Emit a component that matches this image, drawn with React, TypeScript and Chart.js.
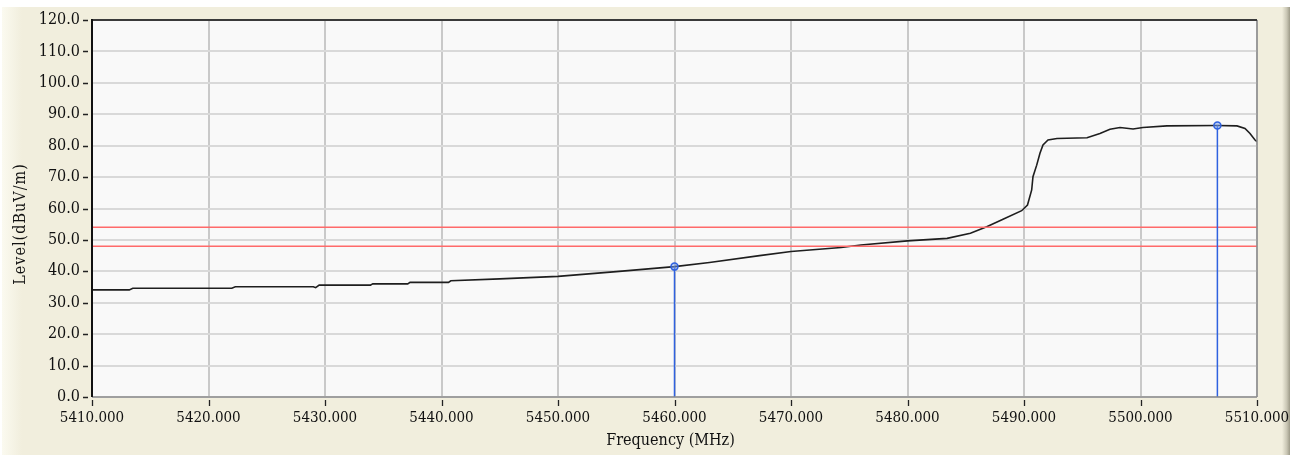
import React, { useEffect, useRef } from "react";
import { Chart, registerables } from "chart.js";

Chart.register(...registerables);

const freqs = [5410, 5413.2, 5413.5, 5422.0, 5422.3, 5429.0, 5429.2, 5429.5, 5433.9, 5434.1, 5437.1, 5437.3, 5440.6, 5440.8, 5445, 5450, 5455, 5460, 5463, 5467.3, 5470, 5474.3, 5476, 5480, 5483.4, 5485.4, 5486.8, 5488.2, 5489.8, 5490.3, 5490.66, 5490.77, 5491.09, 5491.37, 5491.63, 5492.06, 5492.83, 5495.41, 5496.52, 5497.38, 5498.24, 5499.36, 5500.21, 5502.27, 5506.57, 5508.28, 5508.97, 5509.4, 5509.83, 5510];
const levels = [34.1, 34.1, 34.6, 34.6, 35.1, 35.1, 34.8, 35.6, 35.6, 36.0, 36.0, 36.5, 36.5, 37.0, 37.6, 38.4, 39.9, 41.5, 42.8, 45.0, 46.3, 47.6, 48.4, 49.7, 50.5, 52.1, 54.2, 56.6, 59.3, 61.1, 65.9, 70.1, 73.8, 77.6, 80.2, 81.8, 82.3, 82.5, 83.9, 85.2, 85.8, 85.3, 85.8, 86.3, 86.4, 86.3, 85.5, 83.9, 81.8, 81.3];

const limitLevels = [54, 48];
const markerFreqs = [5460.0, 5506.6];
const markerLevels = [41.5, 86.4];

const xMin = 5410;
const xMax = 5510;
const xStep = 10;
const yMin = 0;
const yMax = 120;
const yStep = 10;

const xTitle = "Frequency (MHz)";
const yTitle = "Level(dBuV/m)";

const FONT = "'DejaVu Serif Condensed', 'DejaVu Serif', serif";

const framePlugin = {
  id: "frame",
  beforeDraw(chart: any) {
    const { ctx, chartArea } = chart;
    const { left, top, right, bottom } = chartArea;
    ctx.save();
    ctx.fillStyle = "#F9F9F9";
    ctx.fillRect(left, top, right - left, bottom - top);
    ctx.restore();
  },
  afterDraw(chart: any) {
    const { ctx, chartArea, scales } = chart;
    const { left, top, right, bottom } = chartArea;
    ctx.save();
    // borders
    ctx.strokeStyle = "#8c8c8c";
    ctx.lineWidth = 1.5;
    ctx.beginPath();
    ctx.moveTo(right, top);
    ctx.lineTo(right, bottom);
    ctx.moveTo(left, bottom);
    ctx.lineTo(right, bottom);
    ctx.stroke();
    ctx.strokeStyle = "#3a3a3a";
    ctx.lineWidth = 2;
    ctx.beginPath();
    ctx.moveTo(left, top);
    ctx.lineTo(right, top);
    ctx.stroke();
    ctx.strokeStyle = "#111";
    ctx.beginPath();
    ctx.moveTo(left, top - 1);
    ctx.lineTo(left, bottom);
    ctx.stroke();
    // tick marks
    ctx.strokeStyle = "#222";
    ctx.lineWidth = 1.3;
    ctx.beginPath();
    scales.y.ticks.forEach((t: any) => {
      const py = Math.round(scales.y.getPixelForValue(t.value)) + 0.5;
      ctx.moveTo(left - 9, py);
      ctx.lineTo(left - 4, py);
    });
    scales.x.ticks.forEach((t: any) => {
      const px = Math.round(scales.x.getPixelForValue(t.value)) + 0.5;
      ctx.moveTo(px, bottom + 3);
      ctx.lineTo(px, bottom + 9);
    });
    ctx.stroke();
    // axis titles
    ctx.fillStyle = "#111";
    ctx.font = `16px ${FONT}`;
    ctx.textAlign = "center";
    ctx.textBaseline = "middle";
    ctx.fillText(xTitle, (left + right) / 2 - 4, 441);
    ctx.translate(21, 224);
    ctx.rotate(-Math.PI / 2);
    (ctx as any).letterSpacing = "1px";
    ctx.fillText(yTitle, 0, 0);
    ctx.restore();
  },
};

export default function App() {
  const ref = useRef<HTMLCanvasElement | null>(null);

  useEffect(() => {
    if (!ref.current) return;
    const curve = freqs.map((f, i) => ({ x: f, y: levels[i] }));
    const markerSets = markerFreqs.map((f, i) => ({
      data: [
        { x: f, y: markerLevels[i] },
        { x: f, y: yMin },
      ],
      borderColor: "#2f62e0",
      borderWidth: 1.5,
      pointRadius: [3.5, 0],
      pointBorderWidth: 1.5,
      pointBorderColor: "#2f62e0",
      pointBackgroundColor: "rgba(120,160,240,0.5)",
      showLine: true,
    }));
    const limitSets = limitLevels.map((lv) => ({
      data: [
        { x: xMin, y: lv },
        { x: xMax, y: lv },
      ],
      borderColor: "#ff6a6a",
      borderWidth: 1.5,
      pointRadius: 0,
      showLine: true,
    }));
    const chart = new Chart(ref.current, {
      type: "scatter",
      data: {
        datasets: [
          ...markerSets,
          ...limitSets,
          {
            data: curve,
            borderColor: "#1e1e1e",
            borderWidth: 1.6,
            pointRadius: 0,
            showLine: true,
          },
        ] as any,
      },
      options: {
        animation: false,
        responsive: false,
        events: [],
        layout: { padding: { left: 0, right: 41, top: 20, bottom: 0 } },
        plugins: { legend: { display: false }, tooltip: { enabled: false } },
        scales: {
          x: {
            type: "linear",
            min: xMin,
            max: xMax,
            afterFit: (s: any) => {
              s.height = 60;
              s.paddingLeft = 0;
              s.paddingRight = 0;
            },
            ticks: {
              stepSize: xStep,
              autoSkip: false,
              maxRotation: 0,
              padding: 12,
              color: "#111",
              font: { family: FONT, size: 15 },
              callback: (v: any) => Number(v).toFixed(3),
            },
            grid: { color: "#c9c9c9", lineWidth: 2, drawTicks: false },
            border: { display: false },
          },
          y: {
            type: "linear",
            min: yMin,
            max: yMax,
            afterFit: (s: any) => {
              s.width = 92;
              s.paddingTop = 0;
              s.paddingBottom = 0;
            },
            ticks: {
              stepSize: yStep,
              autoSkip: false,
              padding: 12,
              color: "#111",
              font: { family: FONT, size: 16 },
              callback: (v: any) => Number(v).toFixed(1),
            },
            grid: { color: "#d9d9d9", lineWidth: 2, drawTicks: false },
            border: { display: false },
          },
        },
      },
      plugins: [framePlugin],
    });
    return () => chart.destroy();
  }, []);

  return (
    <div style={{ position: "fixed", left: 0, top: 0, width: 1298, height: 457, background: "#fff" }}>
      <div style={{ position: "absolute", left: 2, top: 7, width: 1288, height: 448, background: "linear-gradient(to right, #fbfaf0 0px, #f1eedd 20px, #f1eedd 100%)" }} />
      <div style={{ position: "absolute", left: 1282, top: 7, width: 8, height: 448, background: "linear-gradient(to right, #f1eedd, #c9c6b4 60%, #9d9a88)" }} />
      <canvas ref={ref} width={1298} height={457} style={{ position: "absolute", left: 0, top: 0, width: 1298, height: 457 }} />
    </div>
  );
}
